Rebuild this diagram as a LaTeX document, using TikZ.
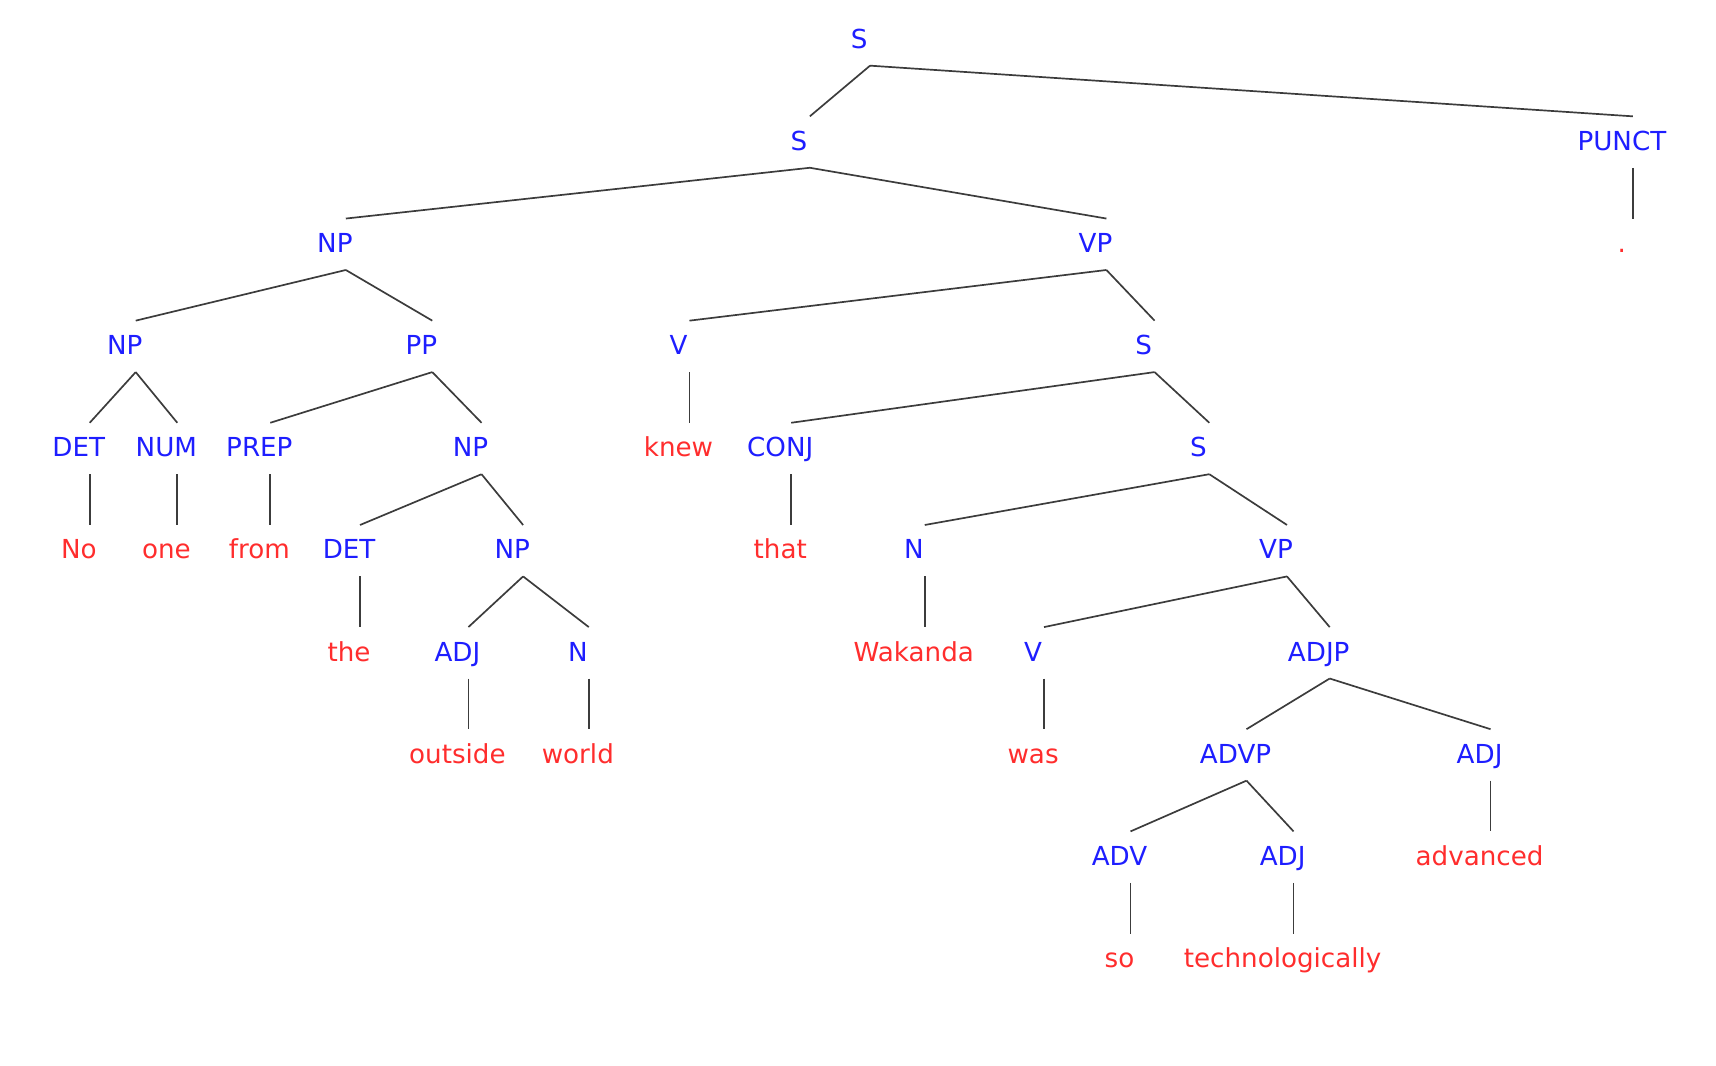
\documentclass[tikz,border=0pt]{standalone}
\usepackage{fontspec}
\setmainfont{DejaVu Sans}
\definecolor{catblue}{RGB}{30,30,255}
\definecolor{wordred}{RGB}{255,45,45}
\definecolor{edgegray}{RGB}{60,60,60}
\tikzset{
  cat/.style={text=catblue, inner sep=0pt, anchor=base, xshift=-0.25cm, font=\fontsize{17}{20}\selectfont},
  word/.style={text=wordred, inner sep=0pt, anchor=base, xshift=-0.25cm, font=\fontsize{17}{20}\selectfont},
  edge/.style={draw=edgegray, line width=1.1pt}
}
\newcommand\br[2]{\draw[edge] ([shift={(10,16)}]#1.base) -- ([shift={(10,-31)}]#2.base);}
\begin{document}
\begin{tikzpicture}[x=0.025cm, y=-0.025cm]
\useasboundingbox (0,0) rectangle (1568,974);
% row baselines: 44, 137.3, 230.7, 324, 417.3, 510.7, 604, 697.3, 790.7, 884
\node[cat] (s0) at (795,44) {S};
\node[cat] (s1) at (740,137.3) {S};
\node[cat] (punct) at (1492,137.3) {PUNCT};
\node[cat] (np1) at (316,230.7) {NP};
\node[cat] (vp1) at (1011,230.7) {VP};
\node[word] (dot) at (1492,230.7) {.};
\node[cat] (np2) at (124,324) {NP};
\node[cat] (pp) at (395,324) {PP};
\node[cat] (v1) at (630,324) {V};
\node[cat] (s2) at (1055,324) {S};
\node[cat] (det1) at (82,417.3) {DET};
\node[cat] (num) at (162,417.3) {NUM};
\node[cat] (prep) at (247,417.3) {PREP};
\node[cat] (np3) at (440,417.3) {NP};
\node[word] (knew) at (630,417.3) {knew};
\node[cat] (conj) at (723,417.3) {CONJ};
\node[cat] (s3) at (1105,417.3) {S};
\node[word] (no) at (82,510.7) {No};
\node[word] (one) at (162,510.7) {one};
\node[word] (from) at (247,510.7) {from};
\node[cat] (det2) at (329,510.7) {DET};
\node[cat] (np4) at (478,510.7) {NP};
\node[word] (that) at (723,510.7) {that};
\node[cat] (n1) at (845,510.7) {N};
\node[cat] (vp2) at (1176,510.7) {VP};
\node[word] (the) at (329,604) {the};
\node[cat] (adj1) at (428,604) {ADJ};
\node[cat] (n2) at (538,604) {N};
\node[word] (wakanda) at (845,604) {Wakanda};
\node[cat] (v2) at (954,604) {V};
\node[cat] (adjp) at (1215,604) {ADJP};
\node[word] (outside) at (428,697.3) {outside};
\node[word] (world) at (538,697.3) {world};
\node[word] (was) at (954,697.3) {was};
\node[cat] (advp) at (1139,697.3) {ADVP};
\node[cat] (adj2) at (1362,697.3) {ADJ};
\node[cat] (adv) at (1033,790.7) {ADV};
\node[cat] (adj3) at (1182,790.7) {ADJ};
\node[word] (advanced) at (1362,790.7) {advanced};
\node[word] (so) at (1033,884) {so};
\node[word] (tech) at (1182,884) {technologically};
% edges
\br{s0}{s1}\br{s0}{punct}
\br{s1}{np1}\br{s1}{vp1}
\br{punct}{dot}
\br{np1}{np2}\br{np1}{pp}
\br{vp1}{v1}\br{vp1}{s2}
\br{np2}{det1}\br{np2}{num}
\br{pp}{prep}\br{pp}{np3}
\br{v1}{knew}
\br{s2}{conj}\br{s2}{s3}
\br{det1}{no}\br{num}{one}\br{prep}{from}
\br{np3}{det2}\br{np3}{np4}
\br{conj}{that}
\br{s3}{n1}\br{s3}{vp2}
\br{det2}{the}
\br{np4}{adj1}\br{np4}{n2}
\br{n1}{wakanda}
\br{vp2}{v2}\br{vp2}{adjp}
\br{adj1}{outside}\br{n2}{world}
\br{v2}{was}
\br{adjp}{advp}\br{adjp}{adj2}
\br{advp}{adv}\br{advp}{adj3}
\br{adj2}{advanced}
\br{adv}{so}\br{adj3}{tech}
\end{tikzpicture}
\end{document}
